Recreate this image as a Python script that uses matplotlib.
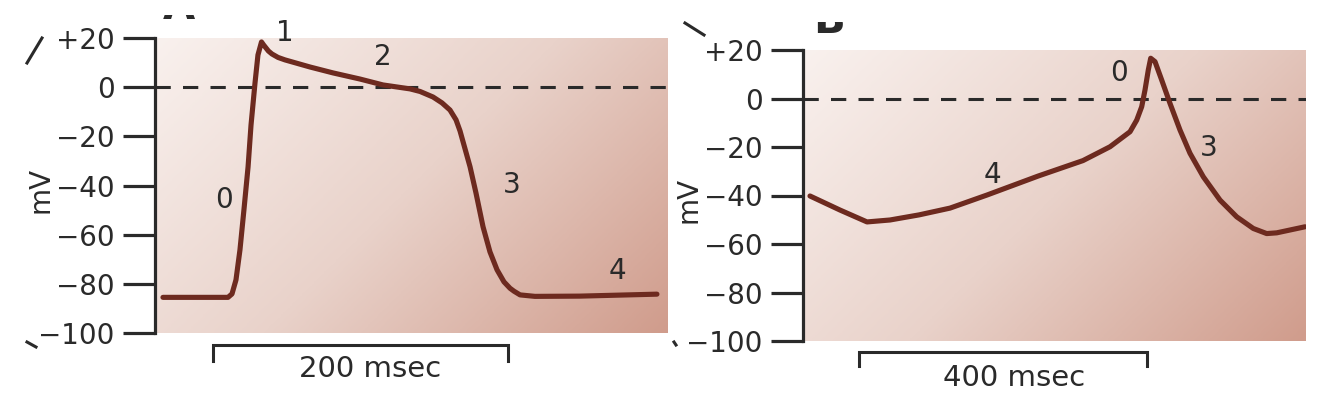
import numpy as np
import matplotlib
matplotlib.use('Agg')
import matplotlib.pyplot as plt
from matplotlib.colors import LinearSegmentedColormap
from matplotlib.lines import Line2D
from matplotlib.transforms import Bbox, TransformedBbox

plt.rcParams['font.family'] = ['DejaVu Sans']
plt.rcParams['axes.unicode_minus'] = True

# ===== data: ventricular action potential (A) =====
a_t = [5.4, 49.5, 52.2, 54.9, 57.6, 60.3, 63.1, 65.1, 67.8, 69.8, 72.2, 73.6, 76.9,
       79.3, 83.4, 88.1, 105.1, 120.7, 139.0, 154.6, 172.9, 179.7, 188.5, 194.6,
       200.0, 204.1, 206.8, 210.2, 213.6, 217.6, 222.4, 227.1, 231.9, 236.6, 240.7,
       243.4, 247.5, 257.6, 288.0, 340.3]
a_mv = [-85.5, -85.5, -84.1, -78.4, -66.2, -49.9, -32.4, -15.4, 1.7, 13.1, 18.4, 17.2,
        14.7, 13.5, 12.1, 11.1, 8.2, 5.8, 3.3, 0.9, -0.7, -1.75, -4.0, -6.4, -9.3,
        -13.3, -17.8, -25.1, -32.4, -43.0, -56.8, -67.0, -74.3, -79.2, -81.8, -83.0,
        -84.5, -85.1, -85.0, -84.2]
a_phase = ['1', '2', '0', '3', '4']
a_phase_t = [88.1, 154.6, 46.8, 242.0, 313.2]
a_phase_mv = [22.0, 12.2, -45.9, -39.8, -74.7]

# ===== data: pacemaker (SA node) action potential (B) =====
b_t = [9.7, 51.4, 88.9, 120.8, 161.1, 204.2, 255.6, 326.4, 388.9, 426.4, 454.2, 463.5,
       470.4, 475.0, 479.6, 482.9, 488.9, 498.2, 509.7, 523.6, 537.5, 556.0, 579.2,
       602.4, 625.4, 644.0, 657.9, 697.2]
b_mv = [-40.2, -46.0, -50.9, -50.1, -48.0, -45.2, -39.8, -32.0, -25.6, -19.9, -13.7,
        -8.9, -3.4, 3.5, 11.8, 16.6, 15.2, 7.6, -2.0, -13.0, -22.6, -32.3, -41.9,
        -48.8, -53.6, -55.7, -55.4, -52.9]
b_phase = ['0', '3', '4']
b_phase_t = [438.2, 563.5, 263.0]
b_phase_mv = [10.5, -20.5, -31.5]

y_ticks = [20, 0, -20, -40, -60, -80, -100]
y_ticklabels = ['+20', '0', '\u221220', '\u221240', '\u221260', '\u221280', '\u2212100']

CURVE = '#6d2a1f'
INK = '#2a2a2a'
W, H = 1334, 396

bg_cmap = LinearSegmentedColormap.from_list('bg', ['#f9f1ee', '#e9d2ca', '#d09c8c'])


def shade(ax, w_px, h_px):
    # diagonal gradient, light top-left -> darker bottom-right
    X, Y = np.meshgrid(np.linspace(0, 1, 300), np.linspace(0, 1, 200))
    g = (X * w_px + Y * h_px) / (w_px + h_px)
    ax.imshow(g, extent=(0, 1, 0, 1), transform=ax.transAxes, cmap=bg_cmap,
              aspect='auto', origin='upper', zorder=0, interpolation='bilinear')


def panel(rect_px, xmax, t, mv, labels, lt, lmv, bar_start, bar_len, bar_text,
          text_shift, bar_y, mv_label_x):
    l, tp, r, b = rect_px
    ax = fig.add_axes([l / W, 1 - b / H, (r - l) / W, (b - tp) / H])
    shade(ax, r - l, b - tp)
    ax.axhline(0, color=INK, lw=2.2, linestyle=(0, (5, 4)), zorder=2)
    ax.plot(t, mv, color=CURVE, lw=3.7, solid_joinstyle='round',
            solid_capstyle='round', zorder=3)
    for s, x, y in zip(labels, lt, lmv):
        ax.text(x, y, s, fontsize=20, color=INK, ha='center', va='center', zorder=4)

    ax.set_xlim(0, xmax)
    ax.set_ylim(-100, 20)
    ax.set_yticks(y_ticks)
    ax.set_yticklabels(y_ticklabels)
    ax.set_xticks([])
    for side in ['top', 'right', 'bottom']:
        ax.spines[side].set_visible(False)
    ax.spines['left'].set_linewidth(2.3)
    ax.spines['left'].set_color(INK)
    ax.tick_params(axis='y', length=23, width=2.3, color=INK, labelsize=20,
                   labelcolor=INK, pad=6)
    ax.text(mv_label_x, 0.485, 'mV', rotation=90, fontsize=20, color=INK,
            ha='center', va='center', transform=ax.transAxes)

    # time scale bar under the trace
    y_top, y_bot, y_txt = bar_y
    x0, x1 = bar_start, bar_start + bar_len
    ax.plot([x0, x0, x1, x1], [y_bot, y_top, y_top, y_bot], color=INK, lw=2.2,
            clip_on=False, solid_joinstyle='miter')
    ax.text((x0 + x1) / 2 + text_shift, y_txt, bar_text, fontsize=21, color=INK,
            ha='center', va='center', clip_on=False)
    return ax


fig = plt.figure(figsize=(W / 100, H / 100), dpi=100)

panel((155, 38, 668, 333), 347.8, a_t, a_mv, a_phase, a_phase_t, a_phase_mv,
      39.5, 200, '200 msec', 6, (-105.0, -111.5, -114.5), -0.224)
panel((803, 50, 1306, 341), 698.6, b_t, b_mv, b_phase, b_phase_t, b_phase_mv,
      77.8, 400, '400 msec', 15, (-104.5, -110.3, -115.3), -0.227)

# panel letters, only their lower edge survives the crop
for letter, xc, base, cut in [('A', 179, 19, 15), ('B', 829, 33, 22)]:
    txt = fig.text(xc / W, 1 - base / H, letter, fontsize=30, fontweight='bold',
                   color=INK, ha='center', va='baseline')
    txt.set_clip_box(TransformedBbox(Bbox([[0, 0], [1, 1 - cut / H]]), fig.transFigure))
    txt.set_clip_on(True)

# stray marks from neighbouring figure elements
for (x0, y0, x1, y1) in [(27, 63, 42, 38), (27, 342, 36, 347),
                         (685, 23, 704, 35), (674, 342, 676, 345)]:
    fig.add_artist(Line2D([x0 / W, x1 / W], [1 - y0 / H, 1 - y1 / H],
                          transform=fig.transFigure, color=INK, lw=2.2))

fig.savefig('out.png', dpi=100)
